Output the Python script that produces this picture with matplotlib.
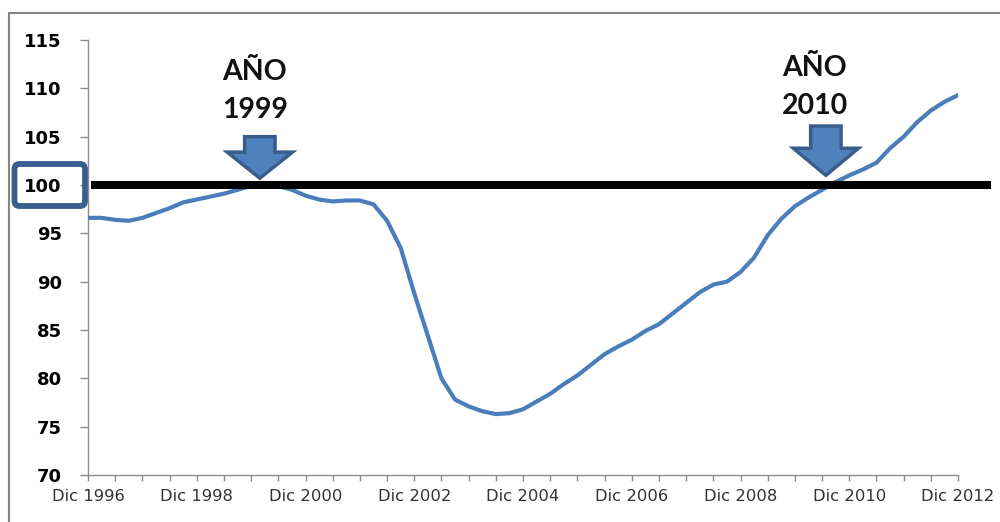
import numpy as np
import matplotlib
matplotlib.use("Agg")
import matplotlib.pyplot as plt
from matplotlib.patches import Polygon, FancyBboxPatch, Rectangle

# ---------- Data: quarterly index, Dec 1996 .. Dec 2012 ----------
years_since_start = np.arange(0, 65) * 0.25   # 0 = Dic 1996
index_values = [
    96.6, 96.6, 96.4, 96.3, 96.6, 97.1, 97.6, 98.2, 98.5, 98.8,
    99.1, 99.5, 99.9, 100.0, 99.9, 99.5, 98.9, 98.5, 98.3, 98.4,
    98.4, 98.0, 96.3, 93.5, 88.8, 84.4, 80.0, 77.8, 77.1, 76.6,
    76.3, 76.4, 76.8, 77.6, 78.4, 79.4, 80.3, 81.4, 82.5, 83.3,
    84.0, 84.9, 85.6, 86.7, 87.8, 88.9, 89.7, 90.0, 91.0, 92.5,
    94.8, 96.5, 97.8, 98.7, 99.5, 100.3, 101.0, 101.6, 102.3, 103.8,
    105.0, 106.5, 107.7, 108.6, 109.3,
]

xtick_labels = ["Dic 1996", "Dic 1998", "Dic 2000", "Dic 2002", "Dic 2004",
                "Dic 2006", "Dic 2008", "Dic 2010", "Dic 2012"]
yticks = [70, 75, 80, 85, 90, 95, 100, 105, 110, 115]

base_level = 100
# (year text, arrow x, text x, arrow tip / head base / shaft top, text line y)
marks = [
    ("1999", 3.16, 3.07, (100.7, 103.4, 105.0), (111.7, 107.8)),
    ("2010", 13.57, 13.37, (101.0, 103.8, 106.1), (112.1, 108.2)),
]

# ---------- Figure ----------
fig = plt.figure(figsize=(10, 5.22), dpi=100)
ax = fig.add_axes([0.088, 0.090, 0.870, 0.8334])

ax.plot(years_since_start, index_values, color="#4A7EBB", lw=3, zorder=3,
        solid_capstyle="round", solid_joinstyle="round")

# reference line at 100 (runs past the end of the axis)
ax.plot([0.05, 16.6], [base_level, base_level], color="black", lw=5.8,
        zorder=4, clip_on=False, solid_capstyle="butt")

ax.set_xlim(0, 16)
ax.set_ylim(70, 115)

# x ticks every half year, labels every two years
xt = np.arange(0, 16.01, 0.5)
ax.set_xticks(xt)
ax.set_xticklabels([xtick_labels[i // 4] if i % 4 == 0 else "" for i in range(len(xt))],
                   fontsize=11.8, color="#333333", family="DejaVu Sans")
ax.set_yticks(yticks)
ax.set_yticklabels([str(v) for v in yticks], fontsize=13, fontweight="bold",
                   family="DejaVu Sans")

for s in ["top", "right"]:
    ax.spines[s].set_visible(False)
for s in ["left", "bottom"]:
    ax.spines[s].set_color("#8C8C8C")
    ax.spines[s].set_linewidth(1.0)
ax.tick_params(axis="y", length=5.8, width=1, color="#8C8C8C", pad=13)
ax.tick_params(axis="x", length=4.3, width=1, color="#8C8C8C", pad=6)

# down arrows with labels
for year, xa, xt_, (tip, head, top), (y1, y2) in marks:
    hw, sw = 0.6, 0.28
    pts = [(xa - sw, top), (xa + sw, top), (xa + sw, head), (xa + hw, head),
           (xa, tip), (xa - hw, head), (xa - sw, head)]
    ax.add_patch(Polygon(pts, closed=True, facecolor="#4F81BD",
                         edgecolor="#385D8A", lw=2.5, zorder=5, clip_on=False))
    for txt, yy in (("AÑO", y1), (year, y2)):
        ax.text(xt_, yy, txt, ha="center", va="center", fontsize=20.5,
                fontweight="bold", family="Lato", color="#111111", zorder=6)

# frame around the 100 label
fig.patches.append(FancyBboxPatch((0.145, 3.16), 0.705, 0.42,
                                  boxstyle="round,pad=0,rounding_size=0.05",
                                  transform=fig.dpi_scale_trans, fill=False,
                                  edgecolor="#3A5F8E", lw=4.2))

# outer chart border
fig.patches.append(Rectangle((0.09, -0.5), 11, 5.59, transform=fig.dpi_scale_trans,
                             fill=False, edgecolor="#868686", lw=1.5))

fig.savefig("out.png", dpi=100)
